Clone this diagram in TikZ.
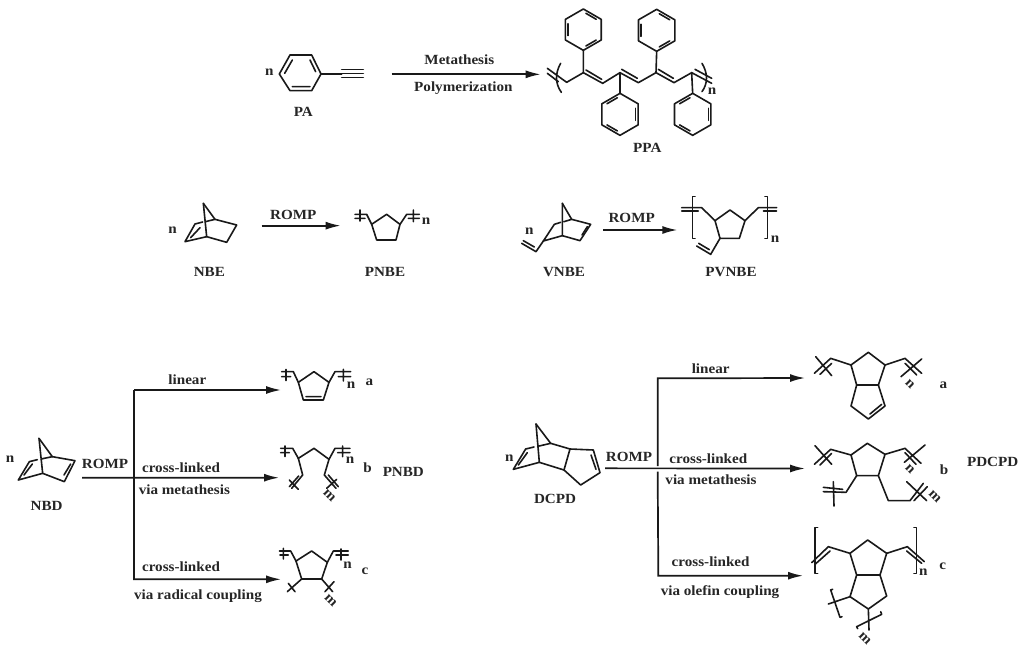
\documentclass[tikz,border=0pt]{standalone}
\usepackage{fontspec}
\setmainfont[FakeStretch=1.08]{Liberation Serif}
\usetikzlibrary{arrows.meta,calc}
\tikzset{
  bond/.style={line width=1.6pt,line cap=round,line join=round,black!90},
  flow/.style={line width=1.7pt,black!90},
  arr/.style={flow,-{Latex[length=15pt,width=8pt]}},
  lab/.style={font=\bfseries\fontsize{14}{16}\selectfont,inner sep=0pt,black!85},
  zoomz/.style={bond,scale=1/3},
}
% pointy-top benzene: centre, radius, rotation of the inner double bonds
\newcommand{\benz}[4]{%
  \draw[bond] (#1,#2) +(90:#3) -- +(30:#3) -- +(-30:#3) -- +(-90:#3) -- +(-150:#3) -- +(150:#3) -- cycle;
  \foreach \a in {60,180,300}{%
    \draw[bond] ($(#1,#2)+(\a+#4-21:0.8*#3)$) -- ($(#1,#2)+(\a+#4+21:0.8*#3)$);}}
\begin{document}
\begin{tikzpicture}[x=1pt,y=-1pt]
\useasboundingbox (0,0) rectangle (1024,653);
\fill[white] (0,0) rectangle (1024,653);

% ===== Row 1 =====
\begin{scope}[shift={(250,0)},zoomz]
  \draw (88,222)--(120,165)--(185,165)--(213,222)--(185,272)--(120,272)--cycle;
  \draw (104,220)--(127,180) (180,180)--(197,215) (127,260)--(180,260);
  \draw (213,222)--(275,222) (275,208)--(340,208) (275,220)--(340,220) (275,232)--(340,232);
  \coordinate (m1a) at (425,223); \coordinate (m1b) at (872,223);
  \node[lab] (tmet) at (628,178) {Metathesis};
  \node[lab] (tpol) at (640,263) {Polymerization};
  \node[lab] (nPA) at (58,218) {n};
  \node[lab] (PA) at (160,337) {PA};
  \node[lab] (PPA) at (1192,445) {PPA};
  \node[lab] (nPPA) at (1386,275) {n};
  % chain
  \draw (892,205)--(950,247)--(1000,218)--(1058,250)--(1110,218)--(1165,248)--(1218,218)--(1272,248)--(1325,218)--(1385,250);
  \draw (892,220)--(925,245) (1008,210)--(1055,238) (1115,208)--(1162,235) (1225,208)--(1270,235) (1335,208)--(1385,235);
  \draw (1000,218)--(1000,150) (1218,218)--(1220,155) (1110,218)--(1110,280) (1325,218)--(1328,280);
  \draw (932,190) .. controls (915,220) and (915,250) .. (934,277);
  \draw (1356,190) .. controls (1374,220) and (1374,250) .. (1356,275);
\end{scope}
\begin{scope}[shift={(250,0)},scale=1/3]
  \benz{1000}{89}{62}{0}
  \benz{1220}{91}{63}{0}
  \benz{1110}{343}{63}{180}
  \benz{1328}{343}{63}{180}
\end{scope}
\draw[arr] (m1a)--(m1b);

% ===== NBE =====
\begin{scope}[shift={(150,185)},zoomz]
  \draw (160,55)--(195,103)--(260,120)--(230,172)--(170,155)--(105,170)--(135,117)--(158,111);
  \draw (166,110)--(195,103);
  \draw (160,55)--(170,155);
  \draw (122,158)--(150,128);
  \coordinate (a2a) at (335,122); \coordinate (a2b) at (572,122);
  \node[lab] (tr2) at (430,90) {ROMP};
  \node[lab] (n2) at (68,136) {n};
  \node[lab] (NBE) at (178,260) {NBE};
  \node[lab] (PNBE) at (705,262) {PNBE};
  \node[lab] (n2b) at (828,110) {n};
  \draw (615,88)--(650,88)--(665,118)--(680,165)--(738,165)--(750,118)--(710,88)--(665,118);
  \draw (750,118)--(770,88)--(808,88) (615,100)--(645,100) (775,100)--(808,100) (630,75)--(630,108) (790,75)--(790,110);
\end{scope}
\draw[arr] (a2a)--(a2b);

% ===== VNBE =====
\begin{scope}[shift={(500,185)},zoomz]
  \draw (187,55)--(215,103)--(272,118)--(240,167)--(187,152)--(130,168)--(163,118)--(182,112);
  \draw (192,110)--(215,103) (187,55)--(187,152);
  \draw (246,150)--(262,125);
  \draw (130,168)--(108,200)--(65,175) (70,167)--(103,186);
  \coordinate (a3a) at (310,135); \coordinate (a3b) at (532,135);
  \node[lab] (tr3) at (395,100) {ROMP};
  \node[lab] (n3) at (88,140) {n};
  \node[lab] (VNBE) at (192,262) {VNBE};
  \node[lab] (PVNBE) at (693,262) {PVNBE};
  \node[lab] (n3b) at (825,163) {n};
  \draw (690,75)--(735,107)--(718,160)--(660,160)--(645,107)--cycle;
  \draw (645,107)--(605,68)--(545,68) (545,78)--(595,78) (735,107)--(775,68)--(830,68) (790,78)--(830,78);
  \draw (585,35)--(577,35)--(577,160)--(585,160) (795,35)--(803,35)--(803,160)--(795,160);
  \draw (660,160)--(632,208)--(590,183) (596,175)--(628,194);
\end{scope}
\draw[arr] (a3a)--(a3b);

% ===== NBD =====
\begin{scope}[shift={(0,360)},zoomz]
  \draw (117,235)--(157,290)--(225,302)--(193,365)--(128,340)--(55,360)--(88,305)--(112,299);
  \draw (123,297)--(157,290) (117,235)--(128,340);
  \draw (72,345)--(97,312) (192,345)--(212,312);
  \coordinate (t1) at (402,90); \coordinate (t2) at (402,658);
  \coordinate (h0) at (246,353); \coordinate (h1) at (402,353);
  \node[lab] (nNBD) at (30,299) {n};
  \node[lab] (NBD) at (140,437) {NBD};
  \node[lab] (trNBD) at (315,313) {ROMP};
  \node[lab] (tlin) at (562,60) {linear};
  \node[lab] (tcl1) at (543,322) {cross-linked};
  \node[lab] (tvm1) at (553,390) {via metathesis};
  \node[lab] (tcl2) at (543,620) {cross-linked};
  \node[lab] (tvr) at (594,708) {via radical coupling};
\end{scope}
\coordinate (ea) at (281,390); \coordinate (eb) at (279,477.7); \coordinate (ec) at (281,579.3);
\draw[arr] (h0)--(eb);
\draw[arr] (t1)--(ea);
\draw[arr] (t1)--(t2)--(ec);

% NBD a
\begin{scope}[shift={(260,355)},zoomz]
  \draw (162,50)--(207,82)--(190,135)--(130,135)--(115,82)--cycle (138,125)--(183,125);
  \draw (115,82)--(100,50)--(65,50) (65,65)--(92,65) (78,43)--(78,77);
  \draw (207,82)--(225,50)--(272,50) (235,65)--(272,65) (250,43)--(250,78);
  \node[lab] (na) at (273,90) {n};
  \node[lab] (la) at (328,82) {a};
\end{scope}
% NBD b
\begin{scope}[shift={(270,440)},zoomz]
  \draw (85,55)--(132,25)--(177,58);
  \draw (85,55)--(68,25)--(32,25) (32,38)--(58,38) (45,18)--(45,50);
  \draw (177,58)--(195,25)--(240,25) (203,38)--(240,38) (218,18)--(218,50);
  \draw (85,55)--(98,105)--(65,145) (86,108)--(58,140) (58,120)--(85,148);
  \draw (177,58)--(163,105)--(198,145) (175,105)--(205,140) (200,118)--(170,145);
  \node[lab] (nb) at (240,62) {n};
  \node[lab] (lb) at (293,82) {b};
  \node[lab,rotate=-45] (mb) at (178,168) {m};
  \node[lab] (PNBD) at (400,95) {PNBD};
\end{scope}
% NBD c
\begin{scope}[shift={(260,475)},zoomz]
  \draw (155,228)--(202,262)--(185,312)--(125,312)--(108,258)--cycle;
  \draw (108,258)--(92,228)--(58,228) (60,240)--(85,240) (70,220)--(70,252);
  \draw (202,262)--(220,228)--(265,228) (228,240)--(265,240) (243,222)--(243,255);
  \draw (125,312)--(82,350) (85,325)--(105,350) (185,312)--(218,350) (222,320)--(195,350);
  \node[lab] (nc) at (263,270) {n};
  \node[lab] (lc) at (315,288) {c};
  \node[lab,rotate=-45] (mc) at (212,378) {m};
\end{scope}

% ===== DCPD =====
\begin{scope}[shift={(490,350)},zoomz]
  \draw (138,222)--(182,280)--(240,297)--(310,300)--(330,368)--(272,405)--(222,360)--(148,337)--(70,358)--(107,297)--(132,291);
  \draw (143,289)--(182,280) (138,222)--(148,337) (222,360)--(240,297);
  \draw (85,345)--(112,308) (303,315)--(318,358);
  \coordinate (u1) at (503,85); \coordinate (u2) at (503,348); \coordinate (u3) at (503,365); \coordinate (u4) at (505,677);
  \coordinate (k0) at (345,355);
  \node[lab] (nD) at (58,325) {n};
  \node[lab] (DCPD) at (195,447) {DCPD};
  \node[lab] (trD) at (417,322) {ROMP};
  \node[lab] (tlinD) at (662,55) {linear};
  \node[lab] (tclD) at (655,327) {cross-linked};
  \node[lab] (tvmD) at (663,390) {via metathesis};
  \node[lab] (tclE) at (662,635) {cross-linked};
  \node[lab] (tvo) at (690,725) {via olefin coupling};
\end{scope}
\coordinate (ka) at (805,378); \coordinate (kb) at (805,468.5); \coordinate (kc) at (803,575.7);
\draw[arr] (k0)--(kb);
\draw[arr] (u2)--(u1)--(ka);
\draw[arr] (u3)--(u4)--(kc);

% DCPD a
\begin{scope}[shift={(790,345)},zoomz]
  \draw (235,22)--(285,60)--(265,120)--(200,120)--(183,60)--cycle;
  \draw (200,120)--(183,183)--(235,222)--(285,183)--(265,120) (240,207)--(275,178);
  \draw (183,60)--(122,40)--(73,85) (125,55)--(90,88) (77,35)--(125,92);
  \draw (285,60)--(345,40)--(395,85) (345,55)--(380,90) (395,42)--(333,95);
  \node[lab,rotate=-45] (nDa) at (360,118) {n};
  \node[lab] (lDa) at (460,122) {a};
\end{scope}
% DCPD b
\begin{scope}[shift={(790,430)},zoomz]
  \draw (232,40)--(285,73)--(265,137)--(200,137)--(183,75)--cycle;
  \draw (183,75)--(122,58)--(73,103) (125,70)--(90,105) (75,47)--(125,103);
  \draw (285,73)--(345,55)--(393,100) (345,68)--(378,103) (405,45)--(343,97);
  \draw (200,137)--(168,187)--(100,185) (100,172)--(158,178) (130,155)--(132,228);
  \draw (265,137)--(295,212)--(360,212)--(400,160) (372,212)--(412,170) (350,155)--(410,212);
  \node[lab,rotate=-45] (nDb) at (360,118) {n};
  \node[lab] (lDb) at (462,120) {b};
  \node[lab,rotate=-45] (mDb) at (435,200) {m};
  \node[lab] (PDCPD) at (608,97) {PDCPD};
\end{scope}
% DCPD c
\begin{scope}[shift={(790,525)},zoomz]
  \draw (233,45)--(290,85)--(270,150)--(200,150)--(180,85)--cycle;
  \draw (200,150)--(180,215)--(235,252)--(290,213)--(270,150);
  \draw (180,85)--(115,65)--(65,113) (120,78)--(75,118);
  \draw (290,85)--(352,65)--(403,110) (350,78)--(395,115);
  \draw (83,8)--(75,8)--(75,145)--(83,145) (372,8)--(380,8)--(380,145)--(372,145);
  \draw (180,215)--(115,237) (128,193)--(122,195)--(150,277)--(156,275);
  \draw (235,252)--(237,315) (272,260)--(275,268)--(200,305)--(203,311);
  \node[lab] (nDc) at (400,143) {n};
  \node[lab] (lDc) at (458,125) {c};
  \node[lab,rotate=-45] (mDc) at (225,340) {m};
\end{scope}
\end{tikzpicture}
\end{document}
